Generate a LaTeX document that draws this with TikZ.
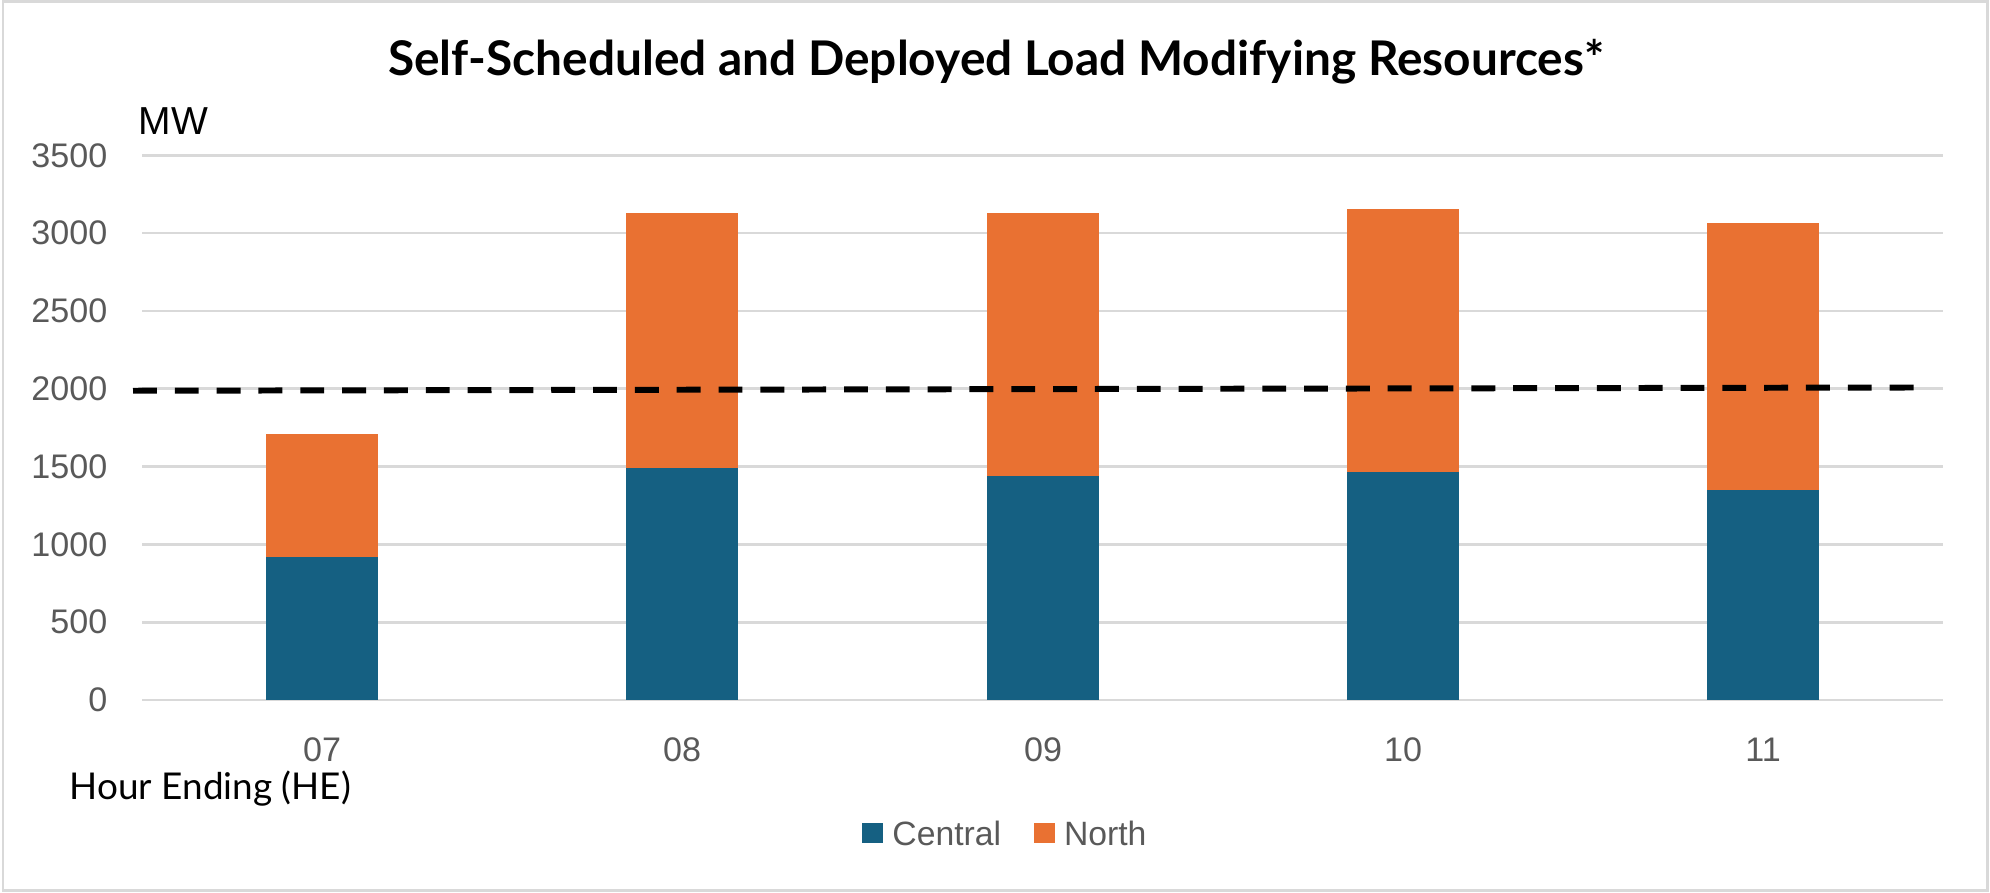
\documentclass[tikz,border=0pt]{standalone}
\usepackage{fontspec}
\setmainfont{Lato}
\newfontfamily\axisfont{Liberation Sans}
\usetikzlibrary{positioning}
\definecolor{central}{HTML}{156082}
\definecolor{north}{HTML}{E97132}
\definecolor{gridgray}{HTML}{D9D9D9}
\definecolor{ticktext}{HTML}{595959}

\begin{document}
\begin{tikzpicture}[
  grid line/.style={gridgray, line width=0.77pt},
  tick label/.style={font=\axisfont\fontsize{9.7}{11}\selectfont, text=ticktext, inner sep=0pt},
  key label/.style={font=\axisfont\fontsize{9.6}{11}\selectfont, text=ticktext, inner sep=0pt},
  swatch/.style={minimum width=0.21cm, minimum height=0.20cm, inner sep=0pt},
  ref line/.style={black, line width=1.7pt, dash pattern=on 6.8pt off 5.1pt}]
  \useasboundingbox (0,0) rectangle (19.90,8.93);
  \draw[gridgray, line width=0.85pt] (0.03,0.02) rectangle (19.87,8.91);
  \node[anchor=base, font=\bfseries\fontsize{13.6}{16}\selectfont] (title) at (9.96,8.17) {Self-Scheduled and Deployed Load Modifying Resources*};
  \node[anchor=base west, inner sep=0pt, font=\axisfont\fontsize{11.1}{13}\selectfont] (unit) at (1.38,7.58) {MW};
  \begin{scope}[shift={(0,1.93)}, y=0.001554cm]
    \foreach \v in {0,500,...,3500}
    {
      \draw[grid line] (1.42,\v) -- (19.43,\v);
      \node[tick label, anchor=east] (y\v) at (1.08,\v) {\v};
    }
    \foreach \x/\c/\n in {3.22/920/1712, 6.82/1493/3127, 10.43/1441/3127, 14.03/1467/3153, 17.63/1351/3063}
    {
      \fill[north] (\x-0.56,\c) rectangle (\x+0.56,\n);
      \fill[central] (\x-0.56,0) rectangle (\x+0.56,\c);
    }
    \coordinate (ref west) at (1.33,1987);
    \coordinate (ref east) at (19.23,2008);
    \draw[ref line] (ref west) -- (ref east);
  \end{scope}
  \foreach \x/\h in {3.22/07, 6.82/08, 10.43/09, 14.03/10, 17.63/11}
    \node[tick label] (x\h) at (\x,1.43) {\h};
  \node[anchor=base west, inner sep=0pt, font=\fontsize{10.5}{12}\selectfont] (xaxis) at (0.69,0.93) {Hour Ending (HE)};
  \node[swatch, fill=central] (central key) at (8.725,0.60) {};
  \node[key label, right=0.08cm of central key] (central label) {Central};
  \node[swatch, fill=north, right=0.31cm of central label] (north key) {};
  \node[key label, right=0.08cm of north key] (north label) {North};
\end{tikzpicture}
\end{document}
